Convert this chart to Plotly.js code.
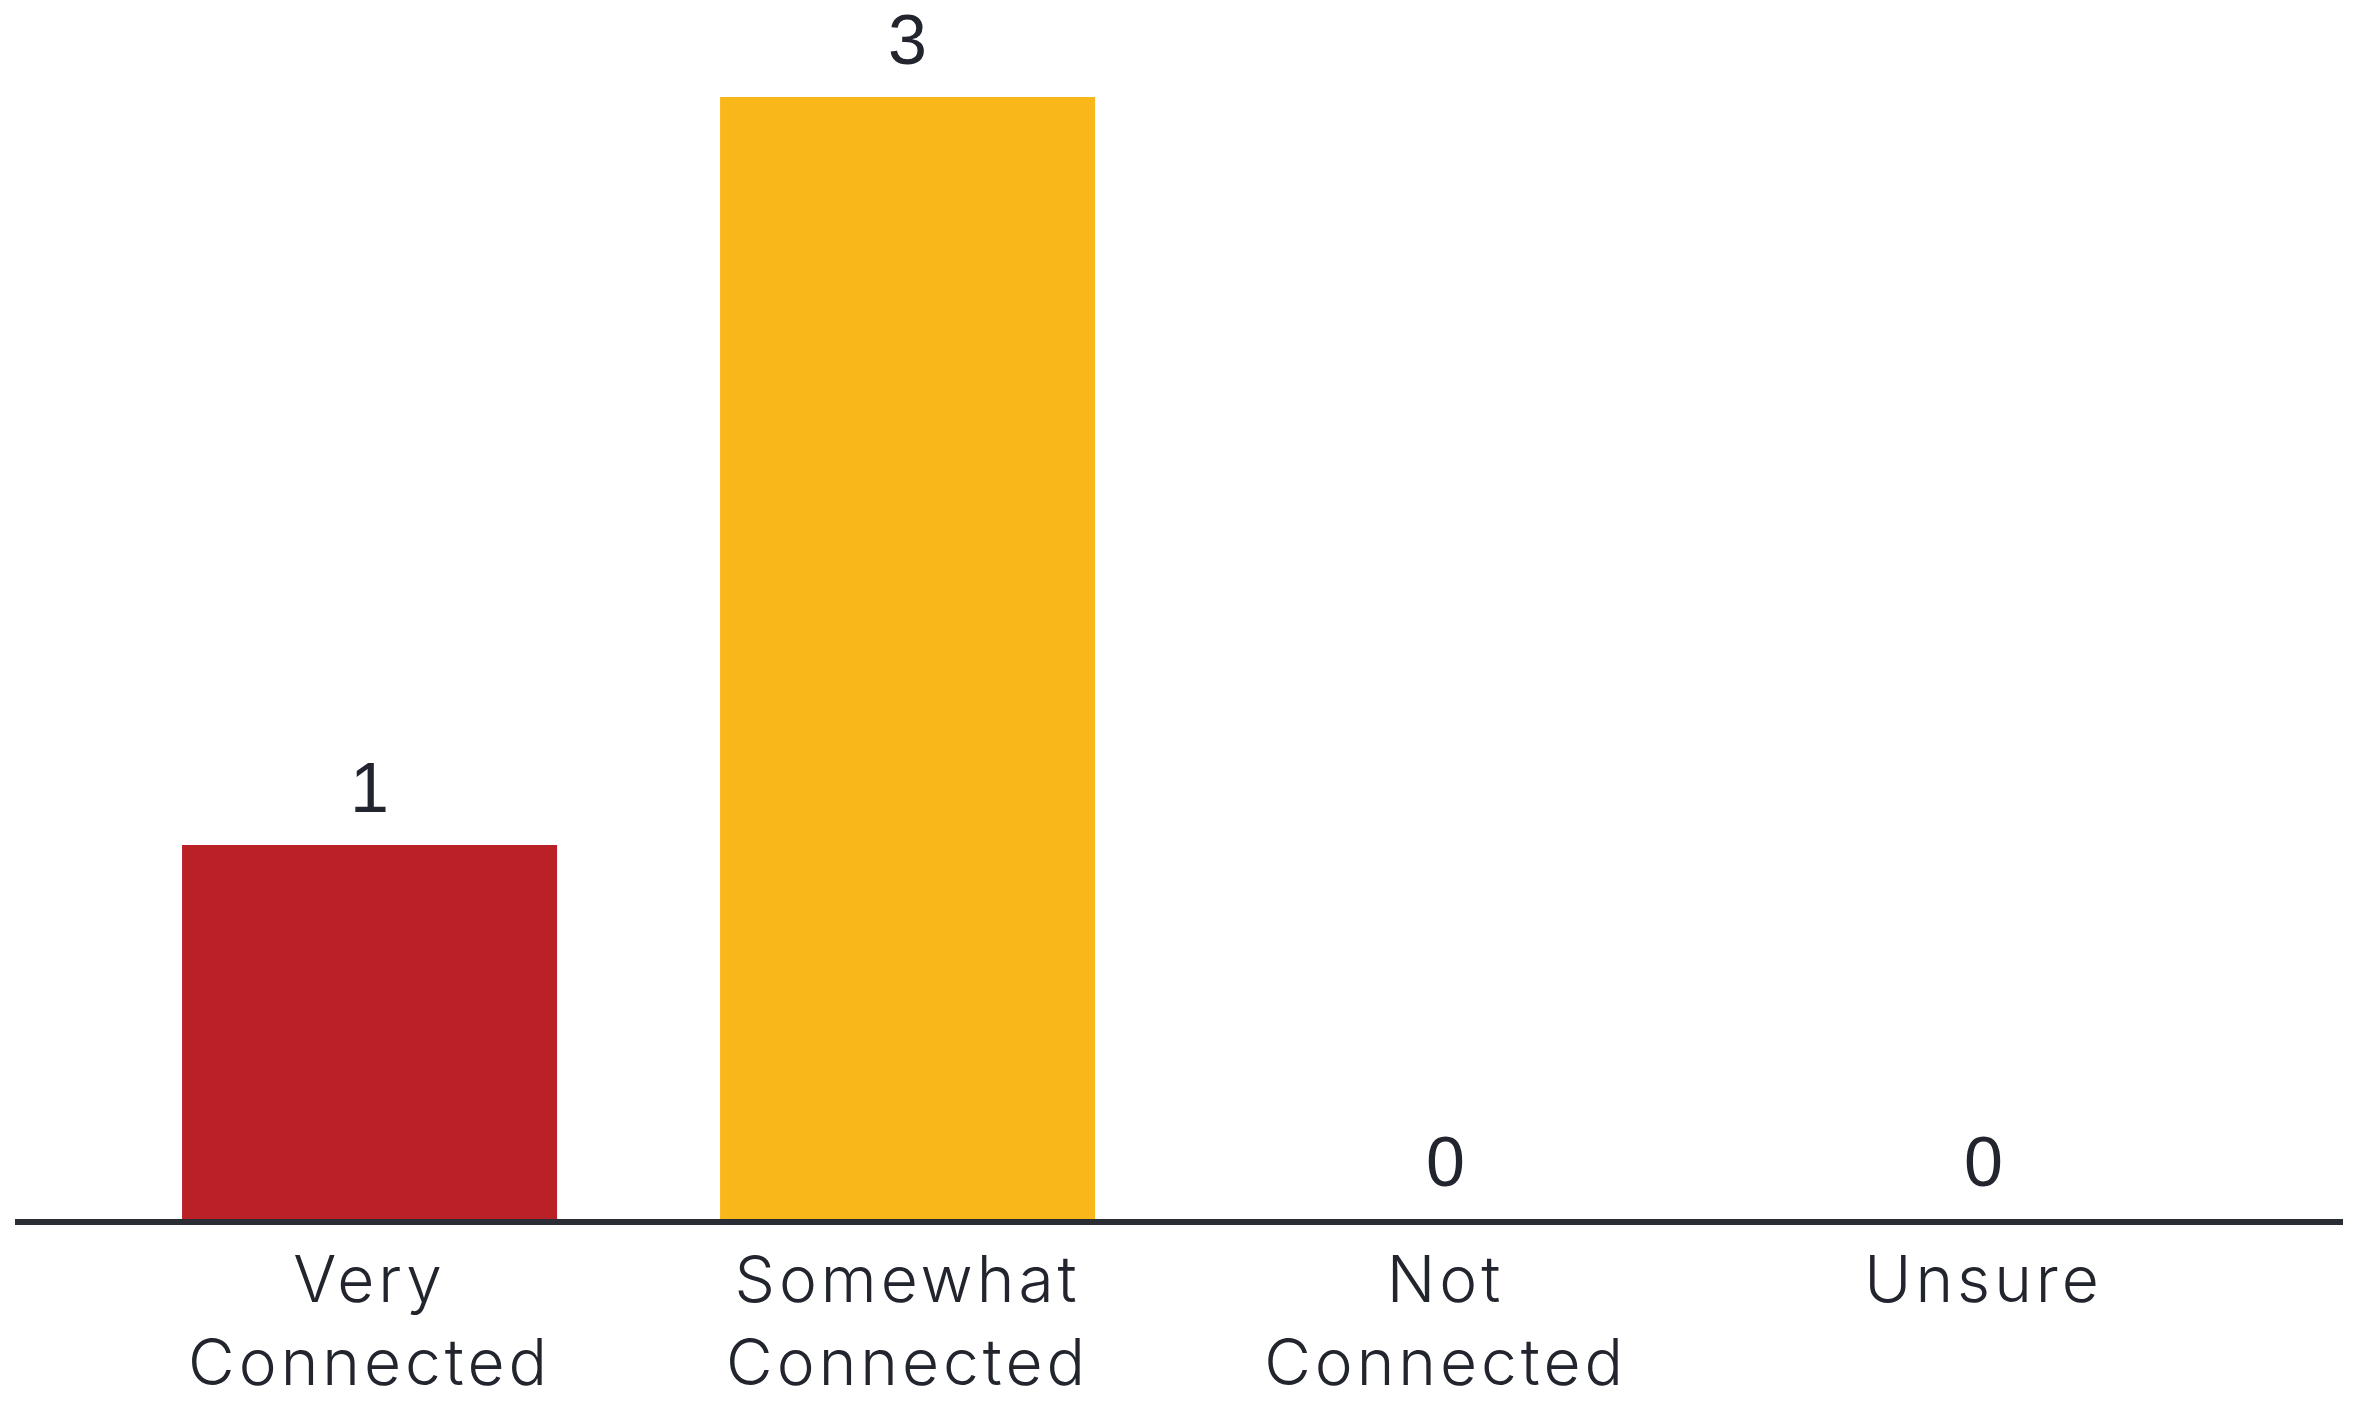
<!DOCTYPE html>
<html>
<head>
<meta charset="utf-8">
<script src="https://cdn.plot.ly/plotly-3.0.1.min.js"></script>
<style>
html,body{margin:0;padding:0;background:#fff;}
#chart{width:2357px;height:1414px;}
#chart .xtick text{letter-spacing:4px;}
</style>
</head>
<body>
<div id="chart"></div>
<script>
const categories = ["Very<br>Connected", "Somewhat<br>Connected", "Not<br>Connected", "Unsure"];
const counts = [1, 3, 0, 0];
const barColors = ["#BA2127", "#F9B71A", "#BA2127", "#F9B71A"];

const trace = {
  type: "bar",
  x: categories,
  y: counts,
  marker: { color: barColors, line: { width: 0 } },
  width: 0.697,
  hoverinfo: "none",
  cliponaxis: false
};

const annotations = categories.map((c, i) => ({
  x: c, y: counts[i], xref: "x", yref: "y",
  text: String(counts[i]),
  showarrow: false,
  yanchor: "bottom",
  yshift: 16,
  font: { family: "Liberation Sans, Arial, sans-serif", size: 70, color: "#22252d" }
}));

const layout = {
  width: 2357, height: 1414,
  margin: { l: 15, r: 14, t: 0, b: 195 },
  paper_bgcolor: "#ffffff",
  plot_bgcolor: "#ffffff",
  showlegend: false,
  xaxis: {
    type: "category",
    range: [-0.659, 3.668],
    showline: true, linecolor: "#2a2d34", linewidth: 6,
    showgrid: false, zeroline: false,
    ticks: "", ticklabelstandoff: 0,
    tickfont: { family: "Inter, Lato, sans-serif", size: 64, color: "#22252d", weight: 300 },
    fixedrange: true
  },
  yaxis: {
    range: [0, 3.259],
    visible: false, showgrid: false, zeroline: false, fixedrange: true
  },
  annotations: annotations
};

Plotly.newPlot("chart", [trace], layout, { staticPlot: true, displayModeBar: false });
</script>
</body>
</html>
